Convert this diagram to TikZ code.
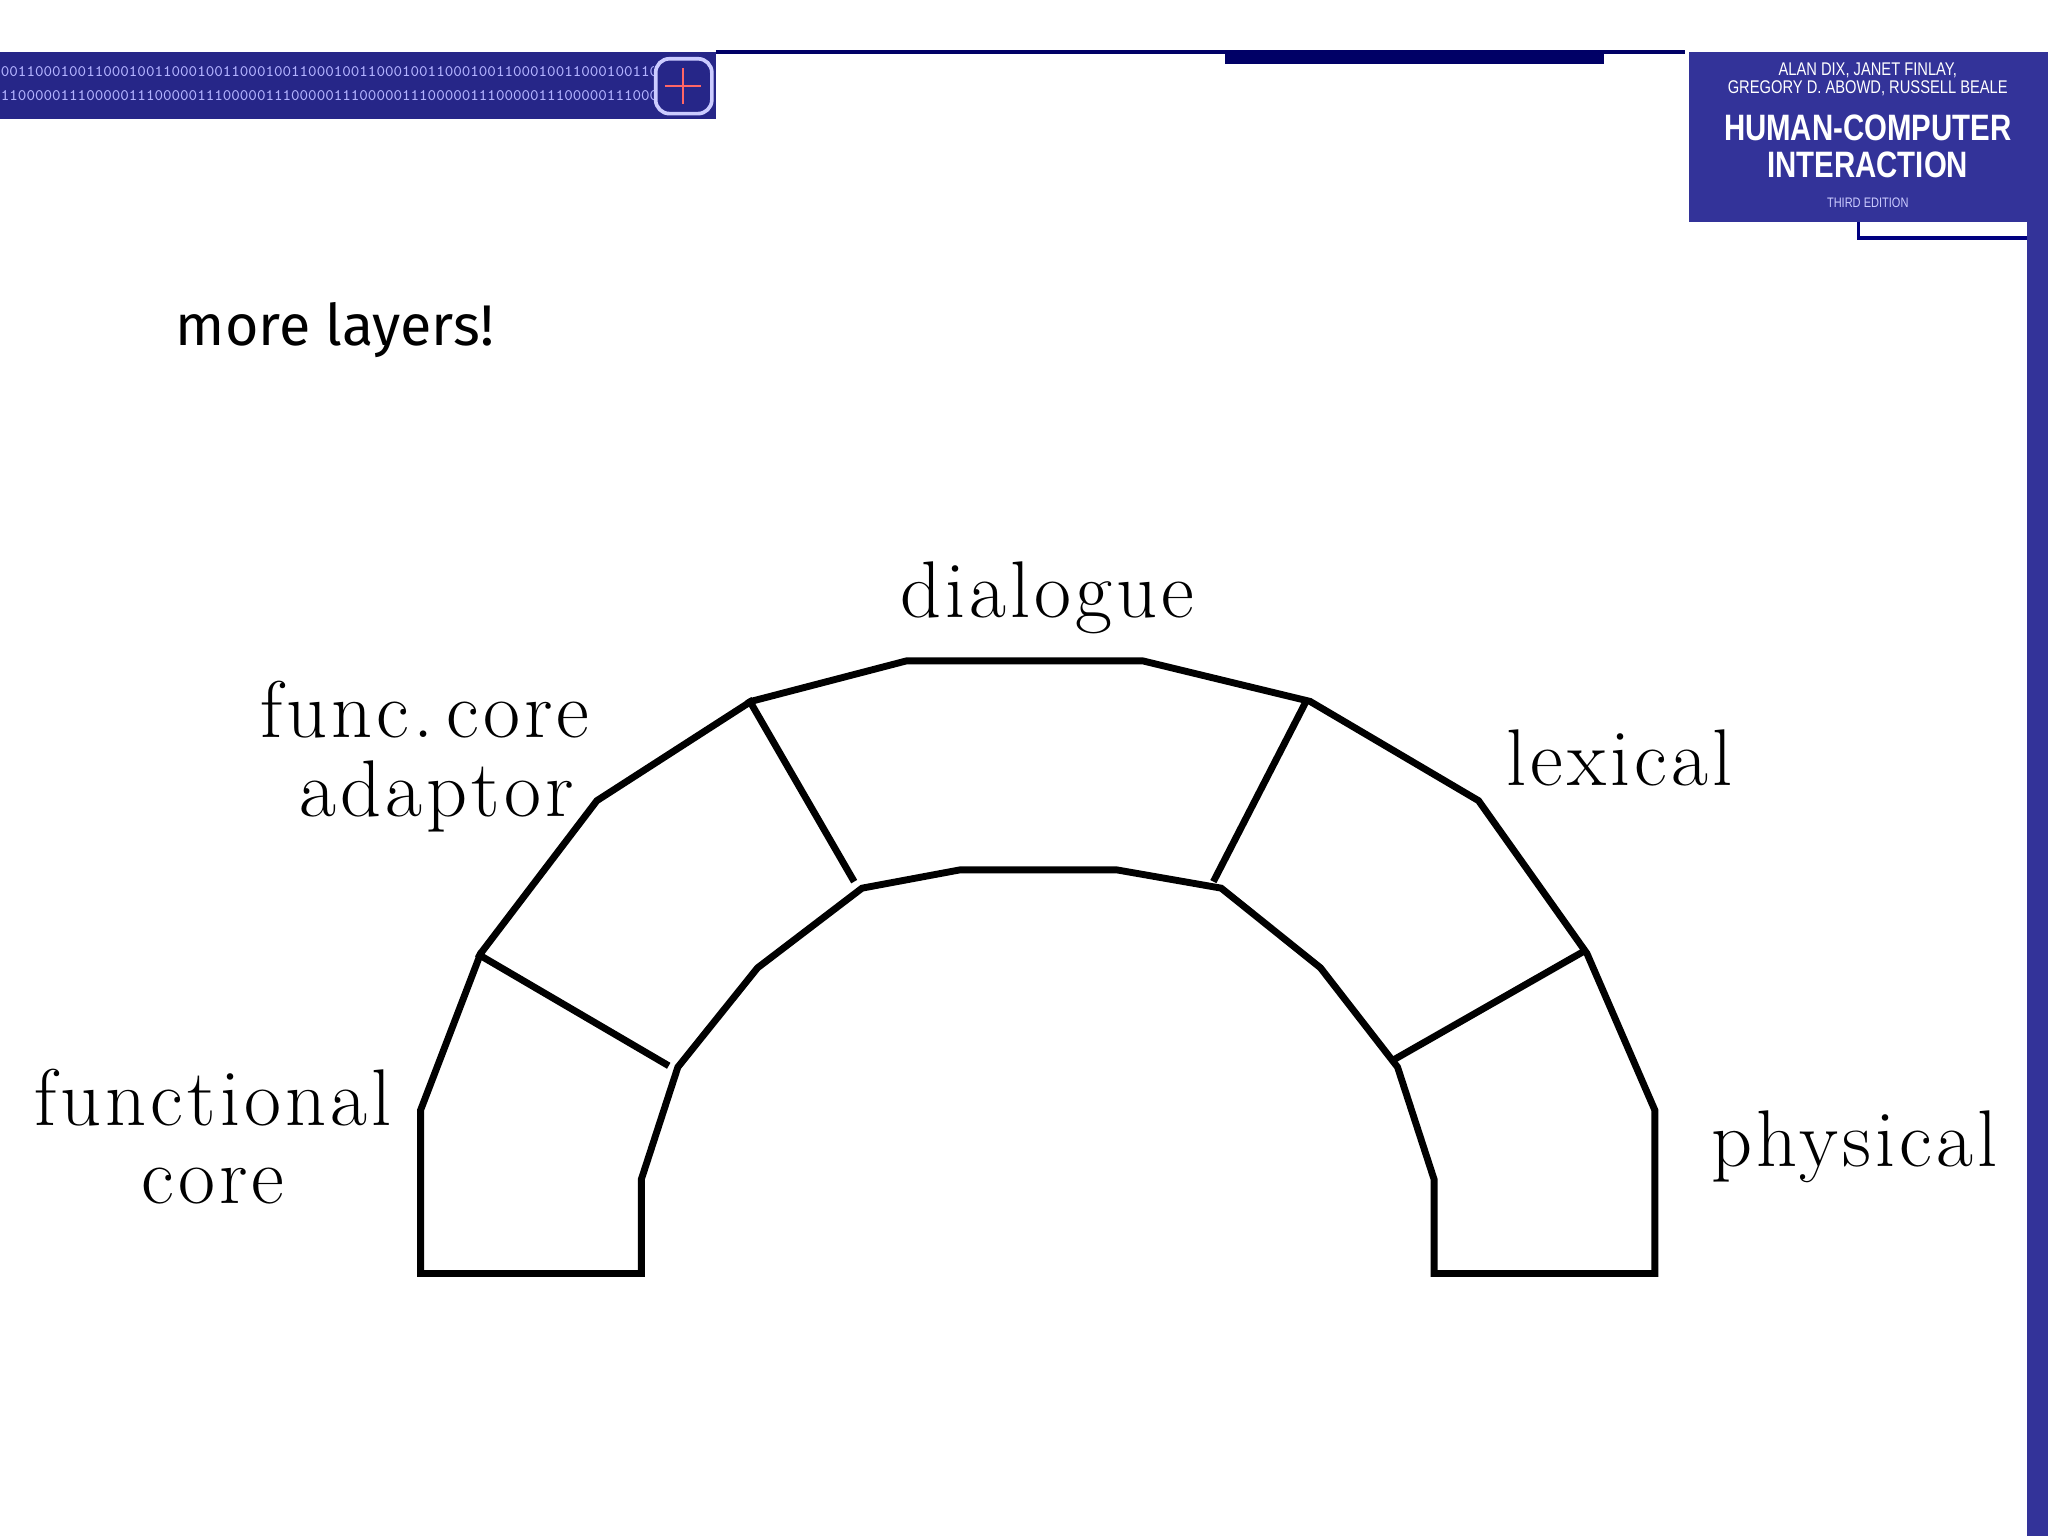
\documentclass[tikz,border=0pt]{standalone}
\usepackage{fontspec}
\newfontfamily\comic{Fira Sans}
\newfontfamily\heros[FakeStretch=0.8]{Liberation Sans}
\newfontfamily\lmsp[LetterSpace=5]{Latin Modern Roman}
\begin{document}
\begin{tikzpicture}[x=0.01cm,y=-0.01cm,
  lbl/.style={font=\lmsp\fontsize{17.5}{18}\selectfont, inner sep=0pt},
  arch/.style={line width=1.5pt, line join=miter}]
\useasboundingbox (0,0) rectangle (1568,1176);
\fill[white] (0,0) rectangle (1568,1176);
% header
\fill[blue!45!black!85] (0,40) rectangle (548,91);
\begin{scope}
\clip (0,40) rectangle (500,91);
\node[font=\ttfamily\fontsize{3.5}{4}\selectfont, text=blue!30!white, anchor=west, inner sep=0pt] (bin1) at (0,55) {0011000100110001001100010011000100110001001100010011000100110001001100010011000100110001001100};
\node[font=\ttfamily\fontsize{3.5}{4}\selectfont, text=blue!30!white, anchor=west, inner sep=0pt] (bin2) at (0,73) {1100000111000001110000011100000111000001110000011100000111000001110000011100000111000001};
\end{scope}
\draw[blue!20!white, line width=0.8pt, rounded corners=3pt] (502,45) rectangle (545,87);
\draw[red!60, line width=0.5pt] (523,52) -- (523,80) (509,66) -- (537,66);
\draw[blue!40!black, line width=0.8pt] (548,40) -- (1290,40);
\fill[blue!40!black] (938,40) rectangle (1228,49);
\fill[blue!50!black!80] (1293,40) rectangle (1568,170);
\draw[blue!50!black, line width=0.8pt] (1423,170) -- (1423,182) -- (1568,182);
\fill[blue!50!black!80] (1552,170) rectangle (1568,1176);
\node[font=\heros\fontsize{4}{5}\selectfont, text=white, align=center, inner sep=0pt] (auth) at (1430,61) {ALAN DIX, JANET FINLAY,\\[-1pt] GREGORY D. ABOWD, RUSSELL BEALE};
\node[font=\heros\bfseries\fontsize{8}{9}\selectfont, text=white, align=center, inner sep=0pt] (title) at (1430,112) {HUMAN-COMPUTER\\[-1pt] INTERACTION};
\node[font=\heros\fontsize{3}{4}\selectfont, text=blue!20!white, inner sep=0pt] (ed) at (1430,155) {THIRD EDITION};
% title
\node[font=\comic\fontsize{12.5}{14}\selectfont, anchor=west, inner sep=0pt] (t) at (134,253) {more layers!};
% arch
\draw[arch] (322,975) -- (322,850) -- (368,730) -- (457,613) -- (575,537) -- (694,506) -- (875,506) -- (1003,537) -- (1132,613) -- (1215,730) -- (1267,850) -- (1267,975) -- (1098,975) -- (1098,903) -- (1070,817) -- (1011,741) -- (935,680) -- (855,666) -- (735,666) -- (660,680) -- (580,741) -- (519,817) -- (491,903) -- (491,975) -- cycle;
\draw[arch] (365,730) -- (512,816);
\draw[arch] (573,535) -- (654,675);
\draw[arch] (1001,535) -- (929,675);
\draw[arch] (1215,727) -- (1066,812);
% labels
\node[lbl] (dlg) at (802,458) {dialogue};
\node[lbl, anchor=east] (fca1) at (452,543) {func.\,core};
\node[lbl, anchor=east] (fca2) at (440,610) {adaptor};
\node[lbl] (lex) at (1240,580) {lexical};
\node[lbl, align=center] (fc) at (163,870) {functional\\[-1pt] core};
\node[lbl] (phy) at (1420,878) {physical};
\end{tikzpicture}
\end{document}
